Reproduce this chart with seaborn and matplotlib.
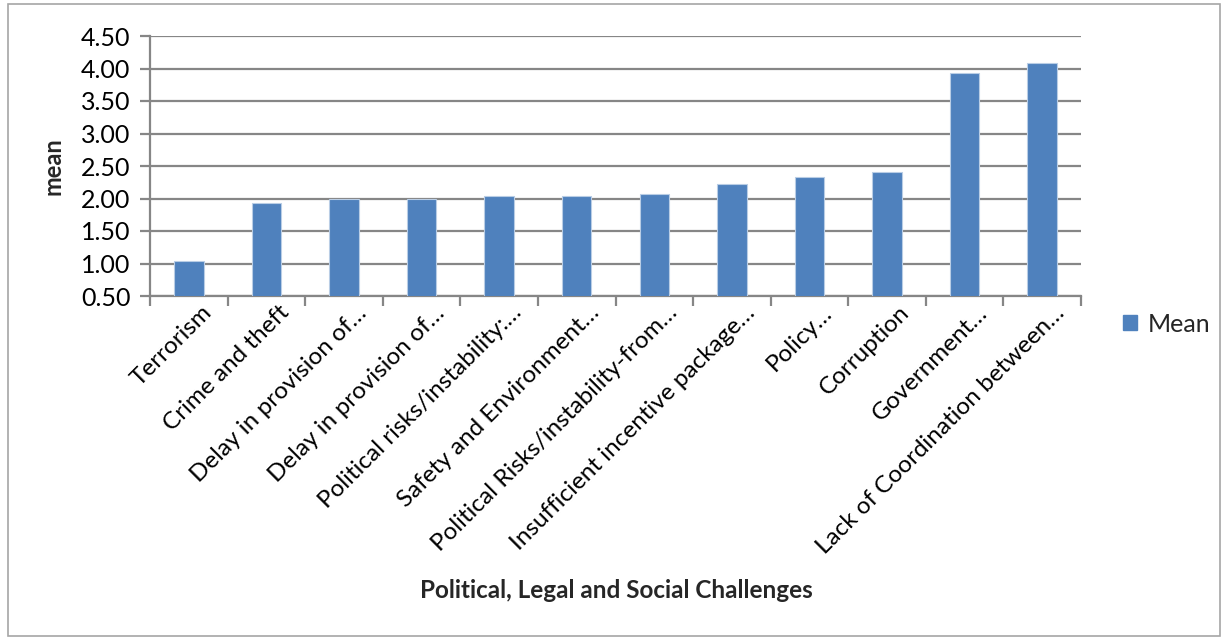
import matplotlib
matplotlib.use("Agg")
import matplotlib.pyplot as plt
import matplotlib.transforms as mtrans
import seaborn as sns
import pandas as pd
from matplotlib.patches import Rectangle, Patch
from matplotlib.ticker import FormatStrFormatter, FixedLocator

categories = [
    "Terrorism",
    "Crime and theft",
    "Delay in provision of…",
    "Delay in provision of…",
    "Political risks/instability:…",
    "Safety and Environment…",
    "Political Risks/instability-from…",
    "Insufficient incentive package…",
    "Policy…",
    "Corruption",
    "Government…",
    "Lack of Coordination between…",
]
means = [1.04, 1.93, 2.00, 2.00, 2.04, 2.04, 2.07, 2.22, 2.33, 2.41, 3.93, 4.08]
series_name = "Mean"
y_ticks = [0.5, 1.0, 1.5, 2.0, 2.5, 3.0, 3.5, 4.0, 4.5]

sns.set_theme(style="white")
plt.rcParams['font.family'] = ['Lato', 'DejaVu Sans']

df = pd.DataFrame({"cat": range(len(categories)), "mean": means})

fig = plt.figure(figsize=(12.28, 6.4), dpi=100)
ax = fig.add_axes([150/1228, 1-296/640, (1081-150)/1228, 260/640])

bar_color = "#4F81BD"
sns.barplot(data=df, x="cat", y="mean", color=bar_color, saturation=1, width=0.38,
            edgecolor="#B9CDE5", linewidth=0.8, ax=ax, zorder=3)

grid_c = "#868686"
ax.set_ylim(0.5, 4.5)
ax.set_xlim(-0.5, len(categories)-0.5)
ax.yaxis.set_major_locator(FixedLocator(y_ticks))
ax.yaxis.set_major_formatter(FormatStrFormatter("%.2f"))
ax.yaxis.grid(True, color=grid_c, linewidth=1.6, zorder=0)
ax.set_axisbelow(True)
for s in ["top", "right"]:
    ax.spines[s].set_visible(False)
for s in ["left", "bottom"]:
    ax.spines[s].set_color(grid_c)
    ax.spines[s].set_linewidth(1.6)

ax.tick_params(axis="y", which="major", direction="out", length=7, width=1.6,
               color=grid_c, labelsize=18, pad=7, left=True)
ax.set_xticks(range(len(categories)))
ax.set_xticklabels(categories, rotation=45, ha="right", rotation_mode="anchor",
                   fontsize=17.5)
ax.tick_params(axis="x", which="major", length=0, pad=0)
ax.set_xticks([i - 0.5 for i in range(len(categories)+1)], minor=True)
ax.tick_params(axis="x", which="minor", direction="out", length=7, width=1.6,
               color=grid_c, bottom=True)
off = mtrans.ScaledTranslation(12/100, -6/100, fig.dpi_scale_trans)
for lab in ax.get_xticklabels():
    lab.set_transform(lab.get_transform() + off)
for lab in ax.get_yticklabels() + ax.get_xticklabels():
    lab.set_color("black")

ax.set_ylabel("mean", fontsize=17, fontweight="bold", labelpad=12)
ax.set_xlabel("")
fig.text(616/1228, 1-591/640, "Political, Legal and Social Challenges",
         ha="center", va="center", fontsize=17.5, fontweight="bold")

handles = [Patch(facecolor=bar_color, edgecolor=bar_color, label=series_name)]
fig.legend(handles=handles, loc="center left", bbox_to_anchor=(1100/1228, 1-324/640),
           frameon=False, fontsize=18, handlelength=0.56, handleheight=0.56,
           handletextpad=0.45)

fig.patches.append(Rectangle((8/1228, 4/640), 1212/1228, 632/640, transform=fig.transFigure,
                             fill=False, edgecolor="#A6A6A6", linewidth=1.2))

fig.savefig("out.png", dpi=100)
